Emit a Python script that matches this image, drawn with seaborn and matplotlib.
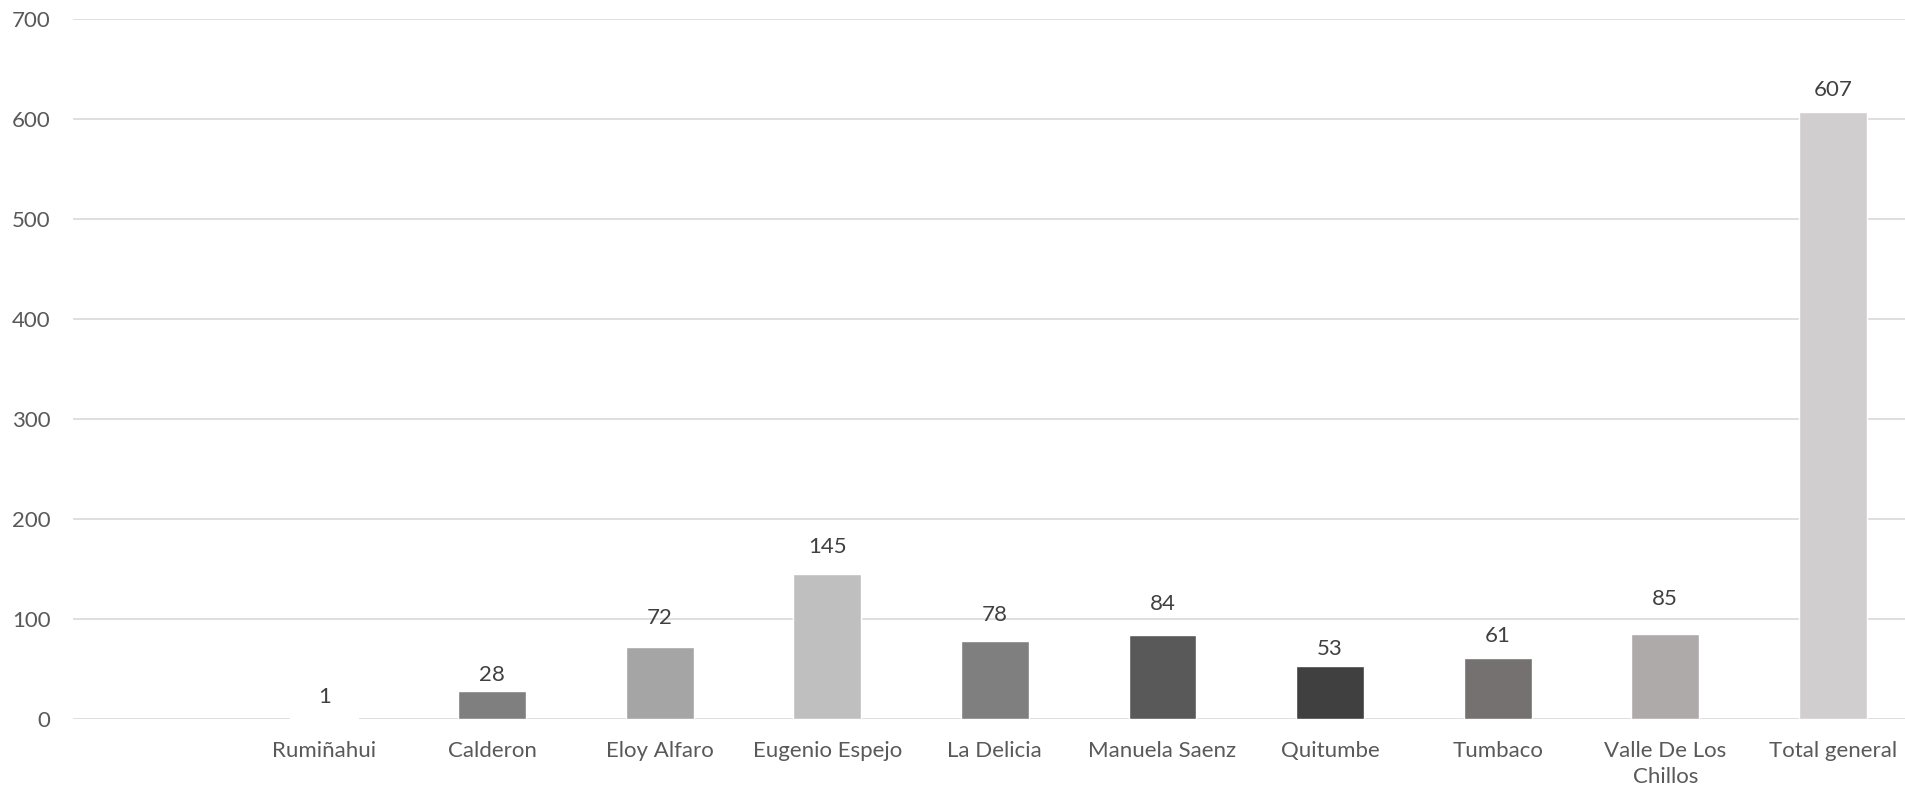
import numpy as np
import pandas as pd
import matplotlib
matplotlib.use("Agg")
import matplotlib.pyplot as plt
import seaborn as sns

# Chart data
categories = ["", "Rumiñahui", "Calderon", "Eloy Alfaro", "Eugenio Espejo", "La Delicia",
              "Manuela Saenz", "Quitumbe", "Tumbaco", "Valle De Los\nChillos", "Total general"]
values = [np.nan, 1, 28, 72, 145, 78, 84, 53, 61, 85, 607]
colors = ["#ffffff", "#b8c9dc", "#7f7f7f", "#a5a5a5", "#bfbfbf", "#7f7f7f",
          "#595959", "#404040", "#767171", "#aeaaaa", "#d0cece"]
# label centre distance above bar top (pixels), as placed in the original
label_gap = [0, 22.7, 17.7, 31, 29, 27.7, 33.3, 19.3, 23.7, 37, 24.3]

df = pd.DataFrame({"Sede": categories, "Total": values})

sns.set_theme(style="white")
plt.rcParams["font.family"] = ["Lato", "DejaVu Sans"]

fig = plt.figure(figsize=(19.05, 7.91), dpi=100)
ax = fig.add_axes([0.0383, 0.091, 0.9617, 0.885])

sns.barplot(data=df, x="Sede", y="Total", hue="Sede", order=categories,
            hue_order=categories, palette=colors, width=0.405, legend=False,
            saturation=1, ax=ax)

# Data labels above bars
px = 72 / fig.dpi
for i, v in enumerate(values):
    if np.isnan(v):
        continue
    ax.annotate(f"{int(v)}", (i, v), xytext=(0, (label_gap[i] - 8) * px),
                textcoords="offset points", ha="center", va="baseline",
                fontsize=16, color="#404040")

ax.set_ylim(0, 700)
ax.set_yticks(range(0, 701, 100))
ax.set_xlim(-0.5, 10.43)
ax.yaxis.grid(True, color="#d9d9d9", linewidth=1.2)
ax.set_axisbelow(True)
for s in ax.spines.values():
    s.set_visible(False)
ax.set_xlabel("")
ax.set_ylabel("")
ax.tick_params(axis="y", length=0, pad=16, labelsize=16, labelcolor="#595959")
ax.tick_params(axis="x", length=0, pad=16, labelsize=16, labelcolor="#595959")
for t in ax.get_xticklabels():
    t.set_linespacing(1.35)

fig.savefig("out.png", dpi=100)
